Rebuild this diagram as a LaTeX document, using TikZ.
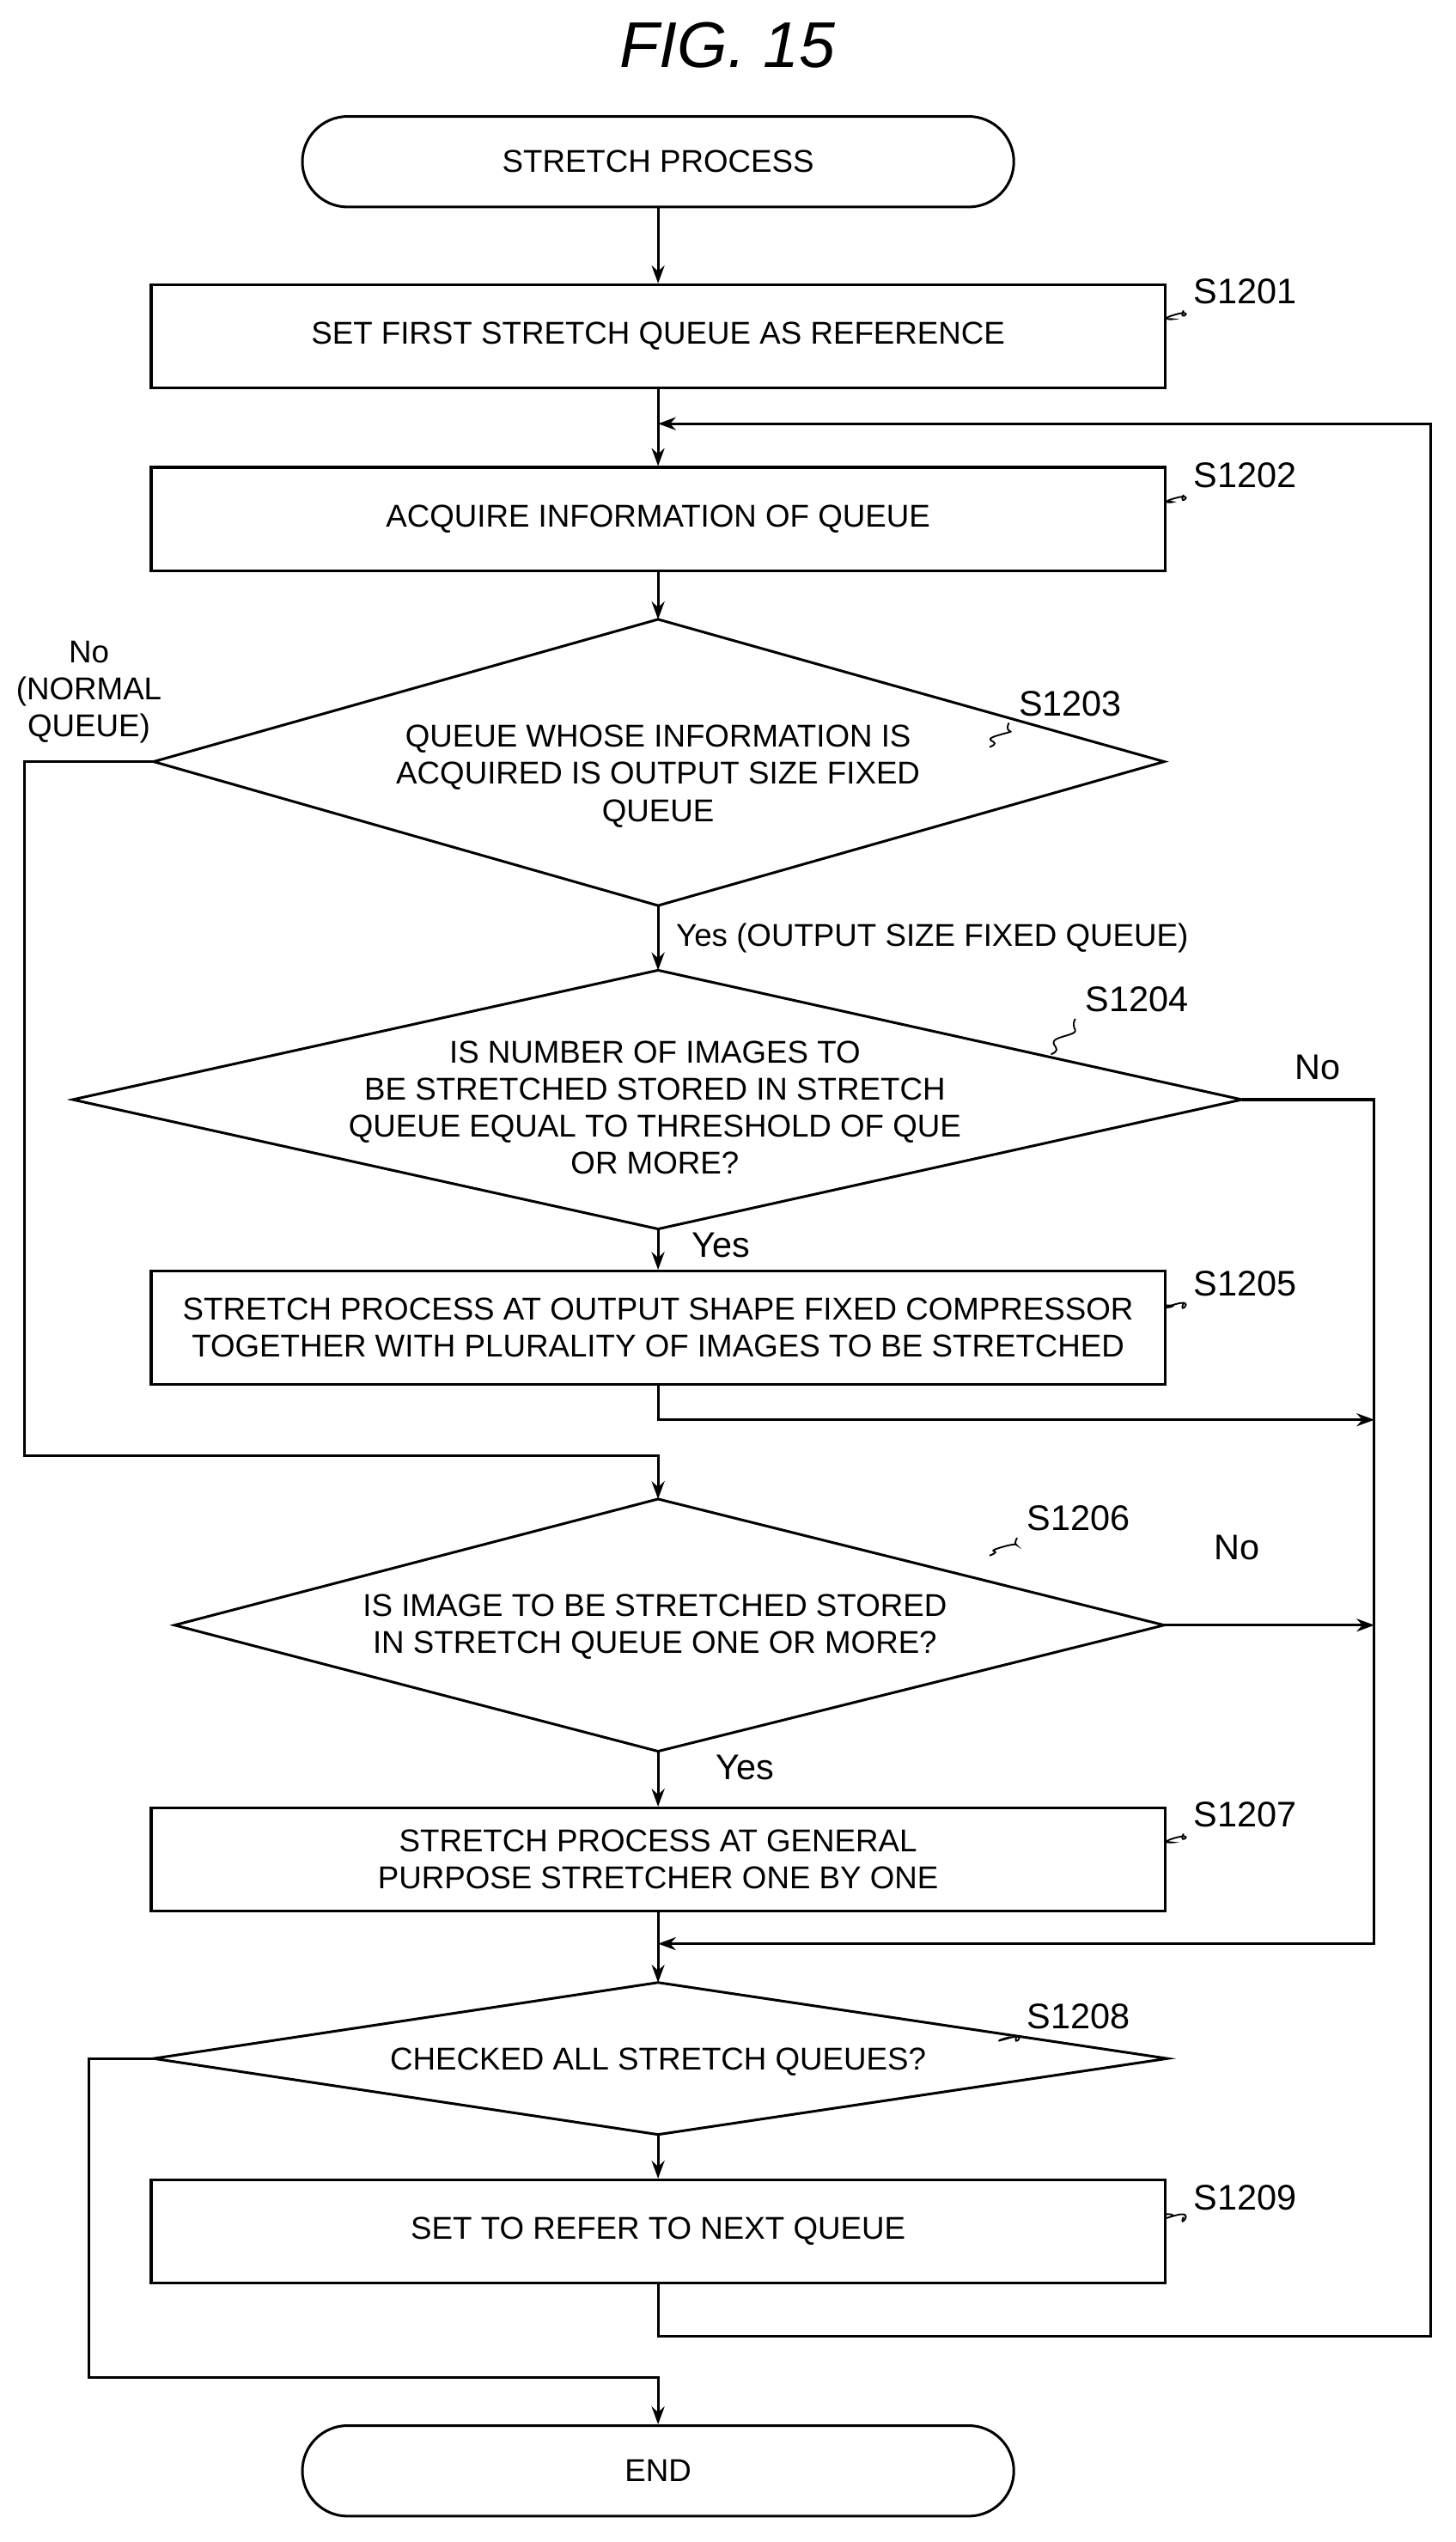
\documentclass[tikz,border=0pt]{standalone}
\usepackage{fontspec}
\setmainfont{Liberation Sans}
\usetikzlibrary{shapes.geometric,arrows.meta,calc}
\begin{document}
\begin{tikzpicture}[x=1pt,y=-1pt,
  every node/.style={font=\fontsize{19.5}{23}\selectfont, align=center, inner sep=0pt},
  box/.style={draw, line width=1.6pt, minimum width=627pt, minimum height=64pt},
  term/.style={draw, line width=1.6pt, rounded corners=28pt, minimum width=440pt, minimum height=56pt},
  ln/.style={line width=1.6pt},
  ar/.style={line width=1.6pt, -{Stealth[length=11pt,width=8pt]}},
  lab/.style={font=\fontsize{22}{25}\selectfont},
  sq/.style={line width=1pt}]
\useasboundingbox (0,0) rectangle (900,1572);
\node[font=\itshape\fontsize{40}{44}\selectfont] (title) at (450,28) {FIG. 15};
\node[term] (start) at (407,100) {STRETCH PROCESS};
\node[box] (b1) at (407,208) {SET FIRST STRETCH QUEUE AS REFERENCE};
\node[box] (b2) at (407,321) {ACQUIRE INFORMATION OF QUEUE};
\path[draw,ln] (95,471) coordinate (d3l) -- (407,383) coordinate (d3t) -- (720,471) coordinate (d3r) -- (407,560) coordinate (d3b) -- cycle;
\node (d3) at (407,480) {QUEUE WHOSE INFORMATION IS\\ACQUIRED IS OUTPUT SIZE FIXED\\QUEUE};
\path[draw,ln] (45,680) coordinate (d4l) -- (407,600) coordinate (d4t) -- (768,680) coordinate (d4r) -- (407,760) coordinate (d4b) -- cycle;
\node (d4) at (405,685) {IS NUMBER OF IMAGES TO\\BE STRETCHED STORED IN STRETCH\\QUEUE EQUAL TO THRESHOLD OF QUE\\OR MORE?};
\node[box, minimum height=70pt] (b5) at (407,821) {STRETCH PROCESS AT OUTPUT SHAPE FIXED COMPRESSOR\\TOGETHER WITH PLURALITY OF IMAGES TO BE STRETCHED};
\path[draw,ln] (108,1005) coordinate (d6l) -- (407,927) coordinate (d6t) -- (720,1005) coordinate (d6r) -- (407,1083) coordinate (d6b) -- cycle;
\node (d6) at (405,1006) {IS IMAGE TO BE STRETCHED STORED\\IN STRETCH QUEUE ONE OR MORE?};
\node[box] (b7) at (407,1150) {STRETCH PROCESS AT GENERAL\\PURPOSE STRETCHER ONE BY ONE};
\path[draw,ln] (95,1273) coordinate (d8l) -- (407,1226) coordinate (d8t) -- (722,1273) coordinate (d8r) -- (407,1320) coordinate (d8b) -- cycle;
\node (d8) at (407,1275) {CHECKED ALL STRETCH QUEUES?};
\node[box] (b9) at (407,1380) {SET TO REFER TO NEXT QUEUE};
\node[term] (end) at (407,1528) {END};
% labels
\node[lab] (l1) at (770,180) {S1201};
\node[lab] (l2) at (770,294) {S1202};
\node[lab] (l3) at (662,435) {S1203};
\node[lab] (l4) at (703,618) {S1204};
\node[lab] (l5) at (770,794) {S1205};
\node[lab] (l6) at (667,939) {S1206};
\node[lab] (l7) at (770,1122) {S1207};
\node[lab] (l8) at (667,1247) {S1208};
\node[lab] (l9) at (770,1359) {S1209};
\foreach \a/\b in {b1/l1, b2/l2, b5/l5, b7/l7, b9/l9}{
  \coordinate (p) at ($(\a.north east)+(0,22)$);
  \coordinate (q) at ($(\b.south west)+(-6,4)$);
  \draw[sq] (p) .. controls +(12,0) and +(-14,4) .. ($(p)!0.5!(q)$) .. controls +(14,-4) and +(-4,8) .. (q);}
\coordinate (s3) at (612,462); \coordinate (s4) at (650,652); \coordinate (s6) at (612,962); \coordinate (s8) at (618,1262);
\foreach \a/\b in {s3/l3, s4/l4, s6/l6, s8/l8}{
  \coordinate (q) at ($(\b.south west)+(-6,4)$);
  \draw[sq] (\a) .. controls +(10,-4) and +(-14,4) .. ($(\a)!0.5!(q)$) .. controls +(14,-4) and +(-4,8) .. (q);}
% connectors
\draw[ar] (start) -- (b1);
\draw[ar] (b1) -- (b2);
\draw[ar] (b2) -- (d3t);
\draw[ar] (d3b) -- (d4t);
\draw[ar] (d4b) -- (b5);
\draw[ar] (d6b) -- (b7);
\draw[ar] (b7) -- (d8t);
\draw[ar] (d8b) -- (b9);
\coordinate (jy) at (850,1202);
\draw[ar] (d4r) -- (850,680) -- (jy) -- (407,1202);
\draw[ar] (b5.south) -- (407,878) -- (850,878);
\draw[ar] (d6r) -- (850,1005);
\draw[ar] (d3l) -- (15,471) -- (15,900) -- (407,900) -- (d6t);
\draw[ar] (b9.south) -- (407,1445) -- (885,1445) -- (885,262) -- (407,262);
\draw[ar] (d8l) -- (55,1273) -- (55,1470) -- (407,1470) -- (end.north);
% text labels
\node (n3) at (55,428) {No\\(NORMAL\\QUEUE)};
\node[anchor=west] (y3) at (418,580) {Yes (OUTPUT SIZE FIXED QUEUE)};
\node[lab] (n4) at (815,660) {No};
\node[lab] (y4) at (446,770) {Yes};
\node[lab] (n6) at (765,957) {No};
\node[lab] (y6) at (461,1093) {Yes};
\end{tikzpicture}
\end{document}
